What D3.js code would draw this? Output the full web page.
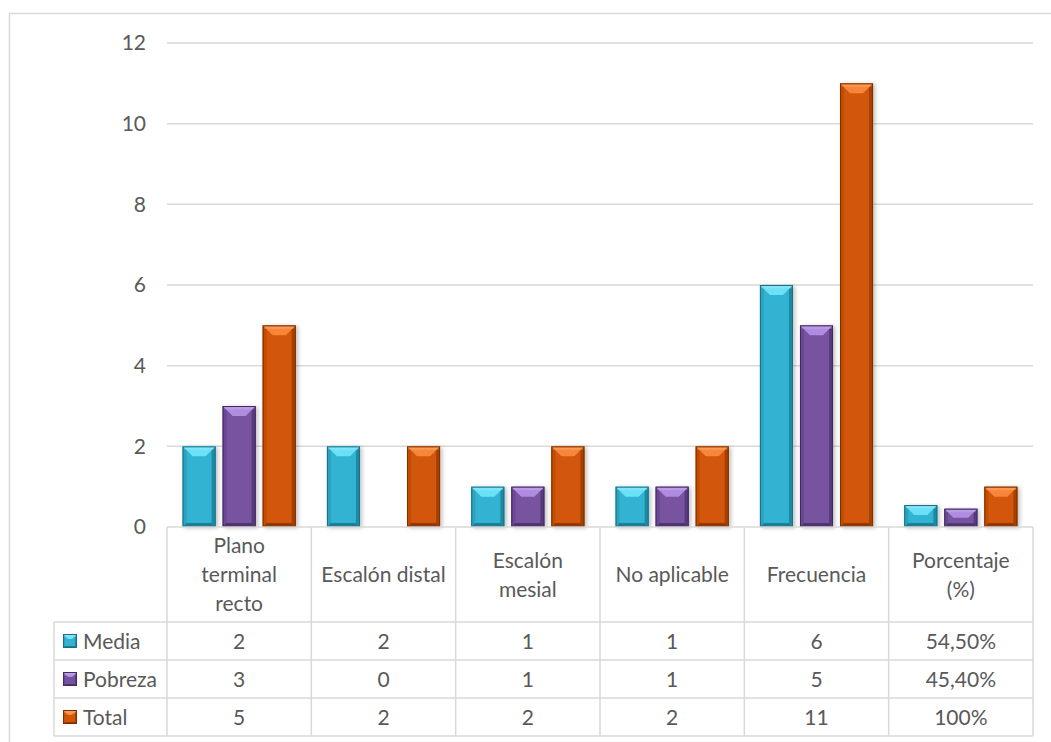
<!DOCTYPE html>
<html>
<head>
<meta charset="utf-8">
<script src="https://cdn.jsdelivr.net/npm/d3@7"></script>
<style>
  html, body { margin: 0; padding: 0; background: #fff; }
  svg { display: block; }
  text { font-family: Lato, "Open Sans", sans-serif; fill: #595959; }
</style>
</head>
<body>
<svg id="chart" width="1051" height="742"></svg>
<script>
// Categories (header lines separated by \n)
const categories = [
  "Plano\nterminal\nrecto",
  "Escalón distal",
  "Escalón\nmesial",
  "No aplicable",
  "Frecuencia",
  "Porcentaje\n(%)"
];
const seriesNames = ["Media", "Pobreza", "Total"];
const mediaValues   = [2, 2, 1, 1, 6, 0.545];
const pobrezaValues = [3, 0, 1, 1, 5, 0.454];
const totalValues   = [5, 2, 2, 2, 11, 1];
const mediaLabels   = ["2", "2", "1", "1", "6", "54,50%"];
const pobrezaLabels = ["3", "0", "1", "1", "5", "45,40%"];
const totalLabels   = ["5", "2", "2", "2", "11", "100%"];
const yTicks = [0, 2, 4, 6, 8, 10, 12];

const seriesValues = [mediaValues, pobrezaValues, totalValues];
const seriesLabels = [mediaLabels, pobrezaLabels, totalLabels];

// Face colours per series: base, top (light), left, right, bottom, outline
const palette = {
  Media:   { base: "#33b3d1", top: "#6ce0f7", left: "#2aa3bf", right: "#1f8aa5", bottom: "#1a7d96", line: "#1b6f85" },
  Pobreza: { base: "#7752a0", top: "#b08be0", left: "#6a4792", right: "#573a7c", bottom: "#4e346f", line: "#432c60" },
  Total:   { base: "#d35608", top: "#f7863a", left: "#c24d05", right: "#a64000", bottom: "#933800", line: "#7d3000" }
};

const svg = d3.select("#chart");

// Outer chart frame
svg.append("rect")
  .attr("x", 9.5).attr("y", 13.5)
  .attr("width", 1080).attr("height", 780)
  .attr("fill", "none").attr("stroke", "#d9d9d9").attr("stroke-width", 1.5);

const plotLeft = 167, plotRight = 1033;
const y = d3.scaleLinear().domain([0, 12]).range([527, 43]);
const x0 = d3.scaleBand().domain(d3.range(categories.length)).range([plotLeft, plotRight]).paddingInner(0).paddingOuter(0);
const cw = x0.bandwidth();
const groupMargin = 15.6;
const x1 = d3.scaleBand().domain(seriesNames).range([groupMargin, cw - groupMargin]).paddingInner(0.175).paddingOuter(0);

// Gridlines
svg.append("g").selectAll("line").data(yTicks.filter(d => d > 0)).join("line")
  .attr("x1", plotLeft).attr("x2", plotRight)
  .attr("y1", d => y(d)).attr("y2", d => y(d))
  .attr("stroke", "#d9d9d9").attr("stroke-width", 1.5);

// Y axis labels
const yAxis = d3.axisLeft(y).tickValues(yTicks).tickSize(0).tickPadding(0);
const yg = svg.append("g").attr("transform", "translate(146,0)").call(yAxis);
yg.select(".domain").remove();
yg.selectAll("text")
  .attr("font-family", "Lato, 'Open Sans', sans-serif")
  .attr("font-size", 21).attr("fill", "#595959");

// Bevelled bar
function bevelBar(g, bx, by, w, h, c, bev) {
  if (h <= 0) return;
  const b = Math.min(bev, h / 2, w / 2);
  const s = 0.4;
  const x2 = bx + w, y2 = by + h;
  g.append("rect").attr("x", bx).attr("y", by).attr("width", w).attr("height", h).attr("fill", c.base);
  const poly = (pts, fill) => g.append("polygon").attr("points", pts.map(p => p.join(",")).join(" ")).attr("fill", fill);
  poly([[bx, by], [bx + b * s, by + b * s], [bx + b * s, y2 - b * s], [bx, y2]], c.left);
  poly([[x2, by], [x2 - b * s, by + b * s], [x2 - b * s, y2 - b * s], [x2, y2]], c.right);
  poly([[bx, y2], [x2, y2], [x2 - b * s, y2 - b * s], [bx + b * s, y2 - b * s]], c.bottom);
  poly([[bx, by], [x2, by], [x2 - b, by + b], [bx + b, by + b]], c.top);
  // brighter rim along the very top
  g.append("rect").attr("x", bx + 1).attr("y", by + 1).attr("width", w - 2).attr("height", Math.min(2.5, h / 3))
    .attr("fill", "#ffffff").attr("opacity", 0.15);
  g.append("rect").attr("x", bx + 0.5).attr("y", by + 0.5).attr("width", w - 1).attr("height", h - 1)
    .attr("fill", "none").attr("stroke", c.line).attr("stroke-width", 1);
}

// Soft shadow filter
const defs = svg.append("defs");
const f = defs.append("filter").attr("id", "shadow").attr("x", "-30%").attr("y", "-10%").attr("width", "160%").attr("height", "130%");
f.append("feGaussianBlur").attr("in", "SourceAlpha").attr("stdDeviation", 2);
f.append("feOffset").attr("dx", 1.5).attr("dy", 1).attr("result", "ob");
f.append("feComponentTransfer").append("feFuncA").attr("type", "linear").attr("slope", 0.25);
const fm = f.append("feMerge");
fm.append("feMergeNode");
fm.append("feMergeNode").attr("in", "SourceGraphic");

// Bars
const barsG = svg.append("g");
categories.forEach((cat, i) => {
  seriesNames.forEach((s, k) => {
    const v = seriesValues[k][i];
    if (v <= 0) return;
    const bx = x0(i) + x1(s);
    const g = barsG.append("g").attr("filter", "url(#shadow)");
    bevelBar(g, bx, y(v), x1.bandwidth(), y(0) - y(v), palette[s], 10);
  });
});

// Data table
const tableTop = 527, headerBottom = 622, rowH = 38, legendLeft = 54;
const tableBottom = headerBottom + rowH * seriesNames.length;
const grid = svg.append("g").attr("stroke", "#d9d9d9").attr("stroke-width", 1.5);
// axis / header top line
grid.append("line").attr("x1", plotLeft).attr("x2", plotRight).attr("y1", tableTop).attr("y2", tableTop);
// row lines
d3.range(seriesNames.length + 1).forEach(r => {
  const yy = headerBottom + r * rowH;
  grid.append("line").attr("x1", legendLeft).attr("x2", plotRight).attr("y1", yy).attr("y2", yy);
});
// column lines
d3.range(categories.length + 1).forEach(i => {
  const xx = i < categories.length ? x0(i) : plotRight;
  grid.append("line").attr("x1", xx).attr("x2", xx).attr("y1", tableTop).attr("y2", tableBottom);
});
grid.append("line").attr("x1", legendLeft).attr("x2", legendLeft).attr("y1", headerBottom).attr("y2", tableBottom);

// Header labels
const lineH = 29;
categories.forEach((cat, i) => {
  const lines = cat.split("\n");
  const cx = x0(i) + cw / 2;
  const cy = (tableTop + headerBottom) / 2;
  const t = svg.append("text").attr("text-anchor", "middle").attr("font-size", 21);
  lines.forEach((ln, j) => {
    t.append("tspan").attr("x", cx)
      .attr("y", cy + (j - (lines.length - 1) / 2) * lineH)
      .attr("dy", "0.36em").text(ln);
  });
});

// Rows: legend key + values
seriesNames.forEach((s, k) => {
  const cy = headerBottom + k * rowH + rowH / 2;
  const kg = svg.append("g");
  bevelBar(kg, 63, cy - 7, 14, 14, palette[s], 5);
  svg.append("text").attr("x", 83).attr("y", cy).attr("dy", "0.36em").attr("font-size", 21).text(s);
  seriesLabels[k].forEach((lbl, i) => {
    svg.append("text").attr("x", x0(i) + cw / 2).attr("y", cy).attr("dy", "0.36em")
      .attr("text-anchor", "middle").attr("font-size", 21).text(lbl);
  });
});
</script>
</body>
</html>
